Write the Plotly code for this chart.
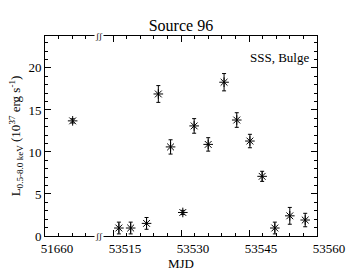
import plotly.graph_objects as go

# Data (MJD, luminosity in 1e37 erg/s, 1-sigma error)
mjd = [51666.1, 53516.3, 53518.9, 53522.4, 53525.0, 53527.7, 53530.4, 53532.9,
       53536.0, 53539.5, 53542.3, 53545.2, 53547.9, 53550.7, 53554.0, 53557.4]
lum = [13.7, 0.95, 0.95, 1.5, 16.9, 10.6, 2.8, 13.1,
       10.9, 18.3, 13.8, 11.3, 7.1, 0.95, 2.4, 1.9]
err = [0.25, 0.7, 0.7, 0.7, 1.0, 0.85, 0.25, 0.87,
       0.8, 1.03, 0.87, 0.8, 0.6, 0.7, 1.0, 0.8]

tick_vals = [53500, 53515, 53530, 53545, 53560]
tick_text = ["51660", "53515", "53530", "53545", "53560"]
break_at = 53512

# broken axis: early epoch segment starting at 51660 is drawn from 53500
def to_axis(m):
    return m - 51660 + 53500 if m < 53000 else m

xs = [to_axis(m) for m in mjd]

FONT = "Liberation Serif, DejaVu Serif, serif"

fig = go.Figure()
fig.add_trace(go.Scatter(
    x=xs, y=lum, mode="markers",
    marker=dict(symbol="asterisk-open", size=8, color="black",
                line=dict(color="black", width=1)),
    error_y=dict(type="data", array=err, visible=True, color="black",
                 thickness=1, width=2),
    showlegend=False,
))

fig.update_layout(
    width=352, height=279,
    margin=dict(l=45, r=35, t=36, b=43, autoexpand=False),
    paper_bgcolor="white", plot_bgcolor="white",
    font=dict(family=FONT, size=13, color="black"),
    title=dict(text="Source 96", x=0.514, xanchor="center", y=0.91, yanchor="middle",
               automargin=False,
               font=dict(family=FONT, size=16, color="black")),
    xaxis=dict(
        range=[53500, 53560], tickmode="array", tickvals=tick_vals, ticktext=tick_text,
        ticks="inside", ticklen=6, tickwidth=1, tickcolor="black",
        showline=True, linecolor="black", linewidth=1, mirror="ticks",
        showgrid=False, zeroline=False, ticklabelshift=12, automargin=False,
        minor=dict(ticks="inside", ticklen=3, tickwidth=1, tickcolor="black",
                   tick0=53500, dtick=3, showgrid=False),
        title=dict(text="MJD", standoff=2, font=dict(family=FONT, size=13)),
    ),
    yaxis=dict(
        range=[0, 23.8], tickmode="array", tickvals=[0, 5, 10, 15, 20],
        ticks="inside", ticklen=6, tickwidth=1, tickcolor="black",
        showline=True, linecolor="black", linewidth=1, mirror="ticks",
        showgrid=False, zeroline=False, automargin=False,
        minor=dict(ticks="inside", ticklen=3, tickwidth=1, tickcolor="black",
                   tick0=0, dtick=1, showgrid=False),
        title=dict(text="L<sub>0.5-8.0 keV</sub> (10<sup>37</sup> erg s<sup>-1</sup>)",
                   standoff=4, font=dict(family=FONT, size=13)),
    ),
)

# axis-break markers on bottom and top axes
for yp in [0, 1]:
    fig.add_annotation(x=break_at, y=yp, xref="x", yref="paper", text="ʃʃ",
                       xanchor="center", yanchor="middle",
                       showarrow=False, font=dict(family=FONT, size=9, color="black"),
                       bgcolor="white", borderpad=0)

fig.add_annotation(x=1, y=1, xref="paper", yref="paper", xanchor="right", yanchor="top",
                   xshift=-6, yshift=-12, text="SSS, Bulge", showarrow=False,
                   font=dict(family=FONT, size=13, color="black"))

fig.write_html("out.html", config={"displayModeBar": False},
               post_script="document.body.style.margin='0';document.body.style.overflow='hidden';")
